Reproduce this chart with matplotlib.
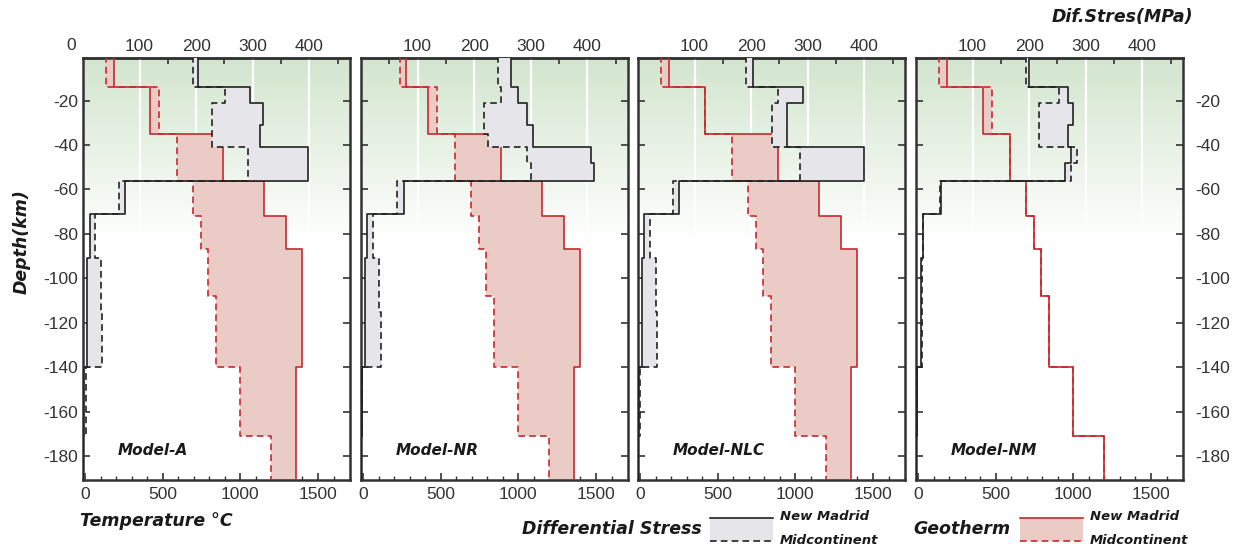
import numpy as np
import matplotlib.pyplot as plt
from matplotlib.colors import LinearSegmentedColormap

plt.rcParams['font.family'] = ['Liberation Sans', 'DejaVu Sans']
plt.rcParams['axes.unicode_minus'] = False

# layer boundaries (km), values below are one per layer
depth_edges = [0, -14, -21, -31, -35, -41, -48, -56, -71, -72, -87, -91, -108, -115, -140, -171, -191]

models = ['Model-A', 'Model-NR', 'Model-NLC', 'Model-NM']

# geotherm (deg C)
temp_nm_A = [187, 418, 418, 418, 886, 886, 886, 1152, 1152, 1297, 1400, 1400, 1400, 1400, 1360, 1360]
temp_mc_A = [135, 478, 478, 478, 590, 590, 590, 693, 693, 745, 794, 794, 845, 845, 997, 1198]
temp_nm_NR = [278, 418, 418, 418, 886, 886, 886, 1152, 1152, 1297, 1400, 1400, 1400, 1400, 1360, 1360]
temp_mc_NR = [235, 478, 478, 478, 590, 590, 590, 693, 693, 745, 794, 794, 845, 845, 997, 1198]
temp_nm_NLC = [187, 418, 418, 418, 886, 886, 886, 1152, 1152, 1297, 1400, 1400, 1400, 1400, 1360, 1360]
temp_mc_NLC = [135, 418, 418, 418, 590, 590, 590, 693, 693, 745, 794, 794, 845, 845, 997, 1198]
temp_nm_NM = [188, 417, 417, 417, 590, 590, 590, 693, 693, 745, 794, 794, 845, 845, 997, 1198]
temp_mc_NM = [134, 477, 477, 477, 590, 590, 590, 693, 693, 745, 794, 794, 845, 845, 997, 1198]

# differential stress (MPa)
stress_nm_A = [204, 295, 319, 313, 313, 398, 398, 75, 12, 12, 12, 7, 7, 7, 2, 0]
stress_mc_A = [195, 251, 228, 228, 228, 291, 291, 63, 21, 21, 21, 31, 31, 34, 5, 0]
stress_nm_NR = [265, 277, 293, 304, 304, 406, 412, 76, 11, 11, 11, 7, 7, 7, 1, 0]
stress_mc_NR = [243, 247, 218, 218, 224, 293, 300, 64, 22, 22, 22, 32, 32, 35, 2, 0]
stress_nm_NLC = [203, 291, 264, 264, 264, 399, 399, 72, 10, 10, 10, 7, 7, 7, 2, 0]
stress_mc_NLC = [191, 248, 237, 237, 237, 287, 287, 62, 21, 21, 21, 32, 32, 34, 4, 0]
stress_nm_NM = [200, 268, 278, 268, 268, 274, 263, 45, 13, 13, 13, 9, 9, 9, 2, 0]
stress_mc_NM = [195, 253, 217, 217, 217, 284, 274, 42, 13, 13, 13, 10, 10, 10, 2, 0]

temp_nm = [temp_nm_A, temp_nm_NR, temp_nm_NLC, temp_nm_NM]
temp_mc = [temp_mc_A, temp_mc_NR, temp_mc_NLC, temp_mc_NM]
stress_nm = [stress_nm_A, stress_nm_NR, stress_nm_NLC, stress_nm_NM]
stress_mc = [stress_mc_A, stress_mc_NR, stress_mc_NLC, stress_mc_NM]

temp_ticks = [0, 500, 1000, 1500]
stress_ticks = [100, 200, 300, 400]
depth_ticks = [-180, -160, -140, -120, -100, -80, -60, -40, -20]

temp_min, temp_max = -13, 1706
stress_max = 472


def t2s(t):
    return (np.asarray(t, float) - temp_min) * stress_max / (temp_max - temp_min)


def s2t(s):
    return np.asarray(s, float) * (temp_max - temp_min) / stress_max + temp_min


def profile(values):
    y = np.repeat(depth_edges, 2)[1:-1]
    x = np.repeat(values, 2)
    return x, y


red = '#c62a2f'
pink = '#ebcbc6'
black = '#222222'
grey = '#e6e6ea'
green = '#d2e5cd'
spine_c = '#333333'
lab_font = dict(family='DejaVu Sans', weight='bold', style='italic')

fig = plt.figure(figsize=(12.36, 5.49), dpi=100)
W, H = 1236, 549
lefts = [83, 361, 638, 916]
bg_cmap = LinearSegmentedColormap.from_list('bg', [green, 'white'])

for i, name in enumerate(models):
    ax = fig.add_axes([lefts[i] / W, (H - 480) / H, 267 / W, 422 / H])
    grad = np.linspace(0, 1, 256)[:, None]
    ax.imshow(grad, cmap=bg_cmap, extent=[temp_min, temp_max, -84, 0],
              aspect='auto', origin='upper', zorder=0)
    ax.vlines(s2t(stress_ticks), -84, 0, color='white', lw=1.6, zorder=1)

    # geotherm
    xn, y = profile(temp_nm[i])
    xm, _ = profile(temp_mc[i])
    ax.fill_betweenx(y, xn, xm, color=pink, lw=0, zorder=2)
    ax.plot(xm, y, color=red, lw=1.2, ls=(0, (4, 2.5)), zorder=3)
    ax.plot(xn, y, color=red, lw=1.2, zorder=3)

    # differential stress
    sn, _ = profile(stress_nm[i])
    sm, _ = profile(stress_mc[i])
    ax.fill_betweenx(y, s2t(sn), s2t(sm), color=grey, lw=0, zorder=4)
    ax.plot(s2t(sm), y, color=black, lw=1.2, ls=(0, (4, 2.5)), zorder=5)
    ax.plot(s2t(sn), y, color=black, lw=1.2, zorder=5)

    ax.set_xlim(temp_min, temp_max)
    ax.set_ylim(-190.8, -0.8)
    ax.set_xticks(temp_ticks)
    ax.set_xticks(np.arange(100, 1700, 100), minor=True)
    ax.set_yticks(depth_ticks)
    ax.tick_params(axis='x', which='both', direction='in', top=False,
                   labelsize=12.5, pad=5, colors=spine_c)
    ax.tick_params(axis='x', which='major', length=5, width=1.2)
    ax.tick_params(axis='x', which='minor', length=3, width=1)
    ax.tick_params(axis='y', which='both', direction='in', left=True, right=True,
                   length=5, width=1.2, labelsize=12.5, colors=spine_c,
                   labelleft=(i == 0), labelright=(i == 3),
                   pad=(3.5 if i == 0 else 8.5))
    for s in ax.spines.values():
        s.set_linewidth(1.8)
        s.set_color(spine_c)

    sec = ax.secondary_xaxis('top', functions=(t2s, s2t))
    sec.set_xticks(stress_ticks)
    sec.set_xticks([50, 150, 250, 350, 450], minor=True)
    sec.tick_params(axis='x', which='both', direction='in', labelsize=12.5,
                    pad=3, colors=spine_c)
    sec.tick_params(axis='x', which='major', length=5, width=1.2)
    sec.tick_params(axis='x', which='minor', length=4, width=1.2)
    sec.spines['top'].set_linewidth(1.8)
    sec.spines['top'].set_color(spine_c)

    ax.text(0.13, 0.07, name, transform=ax.transAxes, ha='left', va='center',
            fontsize=11, color='#1a1a1a', **lab_font)
    if i == 0:
        ax.text(-0.045, 1.013, '0', transform=ax.transAxes, ha='center',
                va='bottom', fontsize=12.5, color=spine_c)

# labels and legend drawn in figure pixels
lg = fig.add_axes([0, 0, 1, 1], facecolor='none')
lg.set_xlim(0, W)
lg.set_ylim(H, 0)
lg.axis('off')

lg.text(22, 242, 'Depth(km)', rotation=90, ha='center', va='center',
        fontsize=12.5, color='#1a1a1a', **lab_font)
lg.text(80, 521, 'Temperature \u00b0C', ha='left', va='center',
        fontsize=12.5, color='#1a1a1a', **lab_font)
lg.text(1193, 17, 'Dif.Stres(MPa)', ha='right', va='center',
        fontsize=12.5, color='#1a1a1a', **lab_font)

lg.text(702, 529, 'Differential Stress', ha='right', va='center',
        fontsize=12.5, color='#1a1a1a', **lab_font)
lg.fill_between([710, 773], 518, 541, color=grey, lw=0)
lg.plot([710, 773], [518, 518], color=black, lw=1.2)
lg.plot([710, 773], [541, 541], color=black, lw=1.2, ls=(0, (4, 2.5)))
lg.text(780, 517, 'New Madrid', ha='left', va='center', fontsize=9.5,
        color='#1a1a1a', **lab_font)
lg.text(780, 540, 'Midcontinent', ha='left', va='center', fontsize=9.5,
        color='#1a1a1a', **lab_font)

lg.text(1010, 529, 'Geotherm', ha='right', va='center',
        fontsize=12.5, color='#1a1a1a', **lab_font)
lg.fill_between([1020, 1083], 518, 541, color=pink, lw=0)
lg.plot([1020, 1083], [518, 518], color=red, lw=1.2)
lg.plot([1020, 1083], [541, 541], color=red, lw=1.2, ls=(0, (4, 2.5)))
lg.text(1090, 517, 'New Madrid', ha='left', va='center', fontsize=9.5,
        color='#1a1a1a', **lab_font)
lg.text(1090, 540, 'Midcontinent', ha='left', va='center', fontsize=9.5,
        color='#1a1a1a', **lab_font)

fig.savefig('out.png', dpi=100)
